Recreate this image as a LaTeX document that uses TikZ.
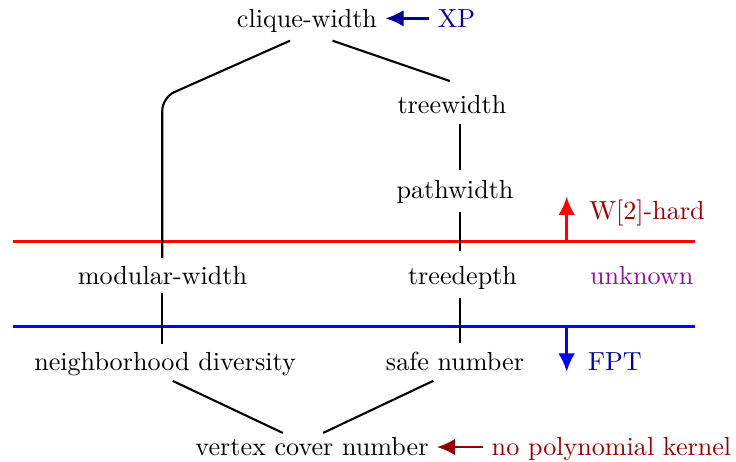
\documentclass[tikz,border=0pt]{standalone}
\usepackage{amsmath,amssymb}
\usepackage{xcolor}
\usepackage{tikz}
\usetikzlibrary{arrows.meta,calc}
\definecolor{unkcol}{rgb}{0.55,0.05,0.6}

\begin{document}
\begin{tikzpicture}[>={Latex[length=7pt,width=6.4pt]},line join=round,
  par/.style={anchor=base,inner sep=3pt},
  edge/.style={thick},
  band/.style={line width=1pt}]
  \useasboundingbox (0.000,0.000) rectangle (9.906,-6.218);
  \coordinate (LC) at (2.184,0.000);
  \coordinate (RC) at (6.191,0.000);
  \coordinate (BEND) at (2.184,-1.312);
  \coordinate (RL) at (0.171,-3.250);
  \coordinate (RR) at (9.354,-3.250);
  \coordinate (BL) at (0.171,-4.394);
  \coordinate (BR) at (9.354,-4.394);
  \coordinate (UPF) at (7.627,-3.250);
  \coordinate (UPT) at (7.627,-2.647);
  \coordinate (DNF) at (7.627,-4.394);
  \coordinate (DNT) at (7.627,-5.003);
  \node[par] (CW) at (4.132,-0.367) {clique-width};
  \node[par] (TW) at (6.083,-1.521) {treewidth};
  \node[par] (PW) at (6.124,-2.674) {pathwidth};
  \node[par] (MW) at (2.187,-3.828) {modular-width};
  \node[par] (TD) at (6.225,-3.828) {treedepth};
  \node[par] (ND) at (2.221,-4.981) {neighborhood diversity};
  \node[par] (SN) at (6.124,-4.981) {safe number};
  \node[par] (VC) at (4.199,-6.137) {vertex cover number};
  \node[par,text=blue!60!black] (XP) at (6.144,-0.367) {XP};
  \node[par,text=red!60!black] (W2) at (8.708,-2.952) {W[2]-hard};
  \node[par,text=unkcol] (UN) at (8.637,-3.828) {unknown};
  \node[par,text=blue!60!black] (FPT) at (8.277,-4.981) {FPT};
  \node[par,text=red!60!black] (NPK) at (8.230,-6.137) {no polynomial kernel};
  \draw[band,red] (RL) -- (RR);
  \draw[band,blue] (BL) -- (BR);
  \draw[->,band,red] (UPF) -- (UPT);
  \draw[->,band,blue] (DNF) -- (DNT);
  \draw[edge,rounded corners=5pt] ([xshift=-6.5pt]CW.south) -- (BEND) -- (MW.north -| LC);
  \draw[edge] ([xshift=9.8pt]CW.south) -- ([xshift=-0.8pt,yshift=2.1pt]TW.north);
  \draw[edge,shorten <=1pt,shorten >=1pt] (TW.south -| RC) -- (PW.north -| RC);
  \draw[edge,shorten >=2.5pt] (PW.south -| RC) -- (TD.north -| RC);
  \draw[edge] (TD.south -| RC) -- (SN.north -| RC);
  \draw[edge] (MW.south -| LC) -- (ND.north -| LC);
  \draw[edge] ([xshift=3pt,yshift=1.1pt]ND.south) -- ([xshift=-11.2pt,yshift=-1.3pt]VC.north);
  \draw[edge] ([xshift=-8.3pt,yshift=-0.8pt]SN.south) -- ([xshift=4.3pt,yshift=-1.3pt]VC.north);
  \draw[->,band,blue!60!black] (XP.west) -- (XP.west -| CW.east);
  \draw[<-,band,red!55!black] (VC.east) -- (VC.east -| NPK.west);
\end{tikzpicture}
\end{document}
